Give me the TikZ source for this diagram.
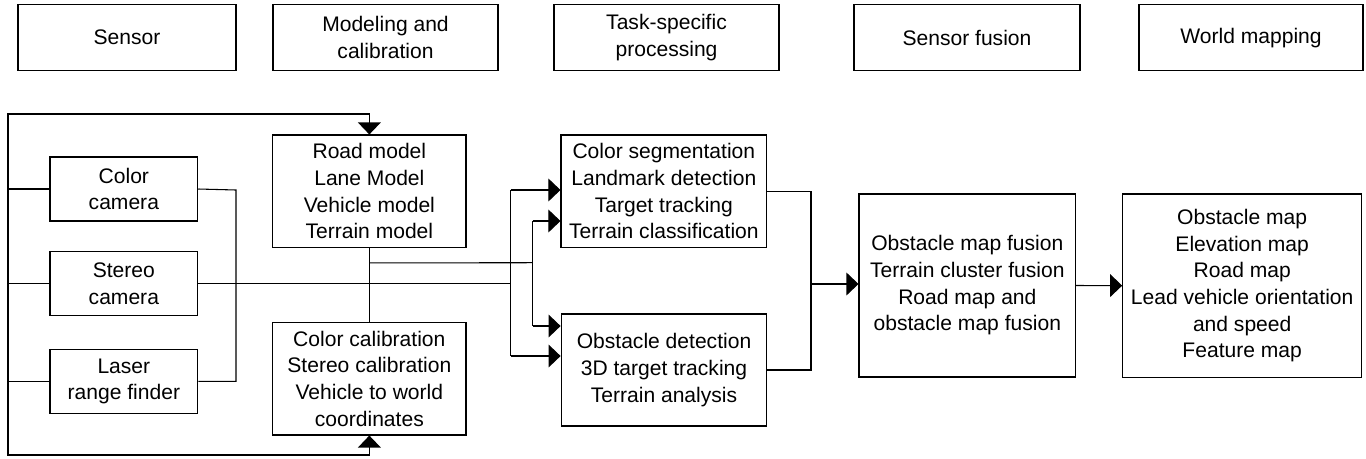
\documentclass[tikz,border=0pt]{standalone}
\usepackage{fontspec}
\setmainfont{Liberation Sans}
\usetikzlibrary{arrows.meta,calc}
\begin{document}
\begin{tikzpicture}[x=0.75pt,y=-0.75pt,
  line width=0.8pt,
  box/.style={draw,rectangle,inner sep=1pt,align=center,
    font=\fontsize{15.8}{20}\selectfont},
  arr/.style={-{Triangle[length=9pt,width=17pt]}},
  darr/.style={{Triangle[length=9pt,width=17pt]}-{Triangle[length=9pt,width=17pt]}}]
\useasboundingbox (0,0) rectangle (1366,458);
% header boxes
\node[box,minimum width=163.5pt,minimum height=49.5pt] (sensorH) at (127,37.7) {Sensor};
\node[box,minimum width=168.75pt,minimum height=49.5pt] (modelH) at (385.5,37.7) {Modeling and\\calibration};
\node[box,minimum width=168.75pt,minimum height=49.5pt] (taskH) at (666.5,37.7) {Task-specific\\processing};
\node[box,minimum width=169.5pt,minimum height=49.5pt] (fusionH) at (967,37.7) {Sensor fusion};
\node[box,minimum width=168pt,minimum height=49.5pt] (worldH) at (1251,37.7) {World mapping};
% sensors
\node[box,minimum width=110.8pt,minimum height=48pt] (color) at (123.85,189) {Color\\camera};
\node[box,minimum width=110.8pt,minimum height=48pt] (stereo) at (123.85,283.5) {Stereo\\camera};
\node[box,minimum width=110.8pt,minimum height=48pt] (laser) at (123.85,381.3) {Laser\\range finder};
% models
\node[box,minimum width=145pt,minimum height=84.5pt] (road) at (369.35,191.35) {Road model\\Lane Model\\Vehicle model\\Terrain model};
\node[box,minimum width=145pt,minimum height=84.5pt] (calib) at (369.35,378.65) {Color calibration\\Stereo calibration\\Vehicle to world\\coordinates};
% processing
\node[box,minimum width=154.3pt,minimum height=84.5pt] (seg) at (663.85,191.35) {Color segmentation\\Landmark detection\\Target tracking\\Terrain classification};
\node[box,minimum width=154.3pt,minimum height=84pt] (obst) at (664,370) {Obstacle detection\\3D target tracking\\Terrain analysis};
% fusion and world
\node[box,minimum width=162.5pt,minimum height=137.25pt] (fusion) at (967.35,285.5) {Obstacle map fusion\\Terrain cluster fusion\\Road map and\\obstacle map fusion};
\node[box,minimum width=179.25pt,minimum height=137.5pt] (world) at (1242.2,285.65) {Obstacle map\\Elevation map\\Road map\\Lead vehicle orientation\\and speed\\Feature map};
% coordinates
\coordinate (lt) at (8,114);
\coordinate (lb) at (8,455);
\coordinate (bus1) at (236,190);
\coordinate (j1) at (510.7,283.5);
\coordinate (a1) at (510.7,190);
\coordinate (a4) at (510.7,356);
\coordinate (m1) at ($(road.south)!0.2!(calib.north)$);
\coordinate (m2) at (532.7,262.7);
\coordinate (b1) at (532.7,221);
\coordinate (b4) at (532.7,326);
\coordinate (oj) at (811,284);
% feedback loop
\draw[darr] (road.north) |- (lt) -- (lb) -| (calib.south);
\draw (color.west) -- (color.west -| lt);
\draw (stereo.west) -- (stereo.west -| lt);
\draw (laser.west) -- (laser.west -| lt);
% sensor bus
\draw (color.east) -- (bus1) -- (bus1 |- laser.east) -- (laser.east);
\draw (stereo.east) -- (j1);
\draw[arr] (a1) -- (a1 -| seg.west);
\draw (a1) -- (a4);
\draw[arr] (a4) -- (a4 -| obst.west);
% model bus
\draw (road.south) -- (calib.north);
\draw (m1) -- (m2);
\draw[arr] (b1) -- (b1 -| seg.west);
\draw (b1) -- (b4);
\draw[arr] (b4) -- (b4 -| obst.west);
% outputs
\draw (seg.east) -| (oj) |- (obst.east);
\draw[arr] (oj) -- (oj -| fusion.west);
\draw[arr] (fusion.east) -- (world.west);
\end{tikzpicture}
\end{document}
